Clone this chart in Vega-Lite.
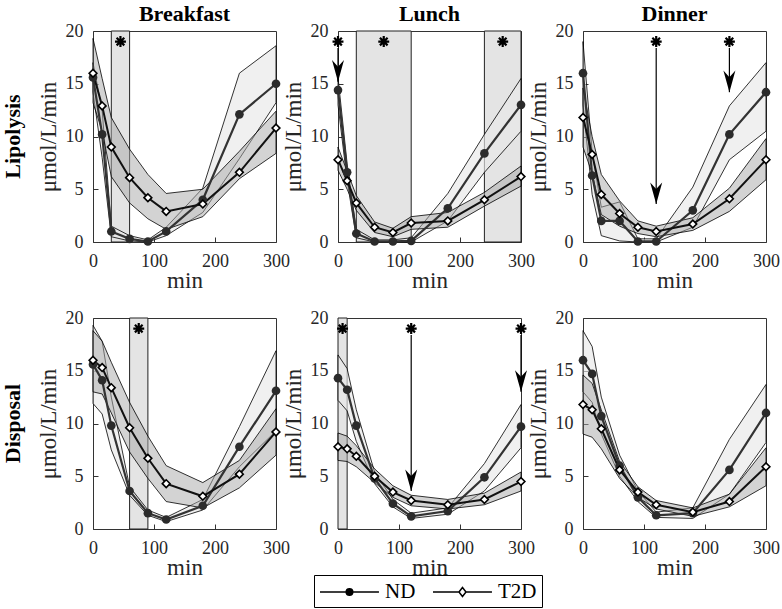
{
  "$schema": "https://vega.github.io/schema/vega-lite/v6.json",
  "background": "white",
  "padding": {"left": 2, "right": 8, "top": 3, "bottom": 0},
  "data": {"values": [
    {"m":"Breakfast","r":"Lipolysis","k":"s","g":"ND","t":0,"y":15.6,"lo":14.2,"hi":17.0},
    {"m":"Breakfast","r":"Lipolysis","k":"s","g":"ND","t":15,"y":10.2,"lo":8.0,"hi":12.5},
    {"m":"Breakfast","r":"Lipolysis","k":"s","g":"ND","t":30,"y":1.0,"lo":0.5,"hi":1.5},
    {"m":"Breakfast","r":"Lipolysis","k":"s","g":"ND","t":60,"y":0.3,"lo":0.1,"hi":0.6},
    {"m":"Breakfast","r":"Lipolysis","k":"s","g":"ND","t":90,"y":0.05,"lo":0,"hi":0.2},
    {"m":"Breakfast","r":"Lipolysis","k":"s","g":"ND","t":120,"y":1.0,"lo":0.6,"hi":1.4},
    {"m":"Breakfast","r":"Lipolysis","k":"s","g":"ND","t":180,"y":4.0,"lo":2.8,"hi":5.1},
    {"m":"Breakfast","r":"Lipolysis","k":"s","g":"ND","t":240,"y":12.1,"lo":7.9,"hi":16.0},
    {"m":"Breakfast","r":"Lipolysis","k":"s","g":"ND","t":300,"y":15.0,"lo":13.2,"hi":18.6},
    {"m":"Breakfast","r":"Lipolysis","k":"s","g":"T2D","t":0,"y":16.0,"lo":13.2,"hi":19.3},
    {"m":"Breakfast","r":"Lipolysis","k":"s","g":"T2D","t":15,"y":12.9,"lo":10.5,"hi":15.5},
    {"m":"Breakfast","r":"Lipolysis","k":"s","g":"T2D","t":30,"y":9.0,"lo":6.2,"hi":11.8},
    {"m":"Breakfast","r":"Lipolysis","k":"s","g":"T2D","t":60,"y":6.1,"lo":3.7,"hi":8.8},
    {"m":"Breakfast","r":"Lipolysis","k":"s","g":"T2D","t":90,"y":4.2,"lo":2.2,"hi":6.4},
    {"m":"Breakfast","r":"Lipolysis","k":"s","g":"T2D","t":120,"y":2.9,"lo":1.2,"hi":4.6},
    {"m":"Breakfast","r":"Lipolysis","k":"s","g":"T2D","t":180,"y":3.6,"lo":2.4,"hi":5.0},
    {"m":"Breakfast","r":"Lipolysis","k":"s","g":"T2D","t":240,"y":6.6,"lo":6.0,"hi":8.6},
    {"m":"Breakfast","r":"Lipolysis","k":"s","g":"T2D","t":300,"y":10.8,"lo":8.4,"hi":12.4},

    {"m":"Lunch","r":"Lipolysis","k":"s","g":"ND","t":0,"y":14.4,"lo":13.0,"hi":15.6},
    {"m":"Lunch","r":"Lipolysis","k":"s","g":"ND","t":15,"y":6.6,"lo":5.8,"hi":7.4},
    {"m":"Lunch","r":"Lipolysis","k":"s","g":"ND","t":30,"y":0.8,"lo":0.4,"hi":1.2},
    {"m":"Lunch","r":"Lipolysis","k":"s","g":"ND","t":60,"y":0.05,"lo":0,"hi":0.2},
    {"m":"Lunch","r":"Lipolysis","k":"s","g":"ND","t":90,"y":0.05,"lo":0,"hi":0.2},
    {"m":"Lunch","r":"Lipolysis","k":"s","g":"ND","t":120,"y":0.1,"lo":0,"hi":0.4},
    {"m":"Lunch","r":"Lipolysis","k":"s","g":"ND","t":180,"y":3.2,"lo":2.0,"hi":4.6},
    {"m":"Lunch","r":"Lipolysis","k":"s","g":"ND","t":240,"y":8.4,"lo":6.6,"hi":10.2},
    {"m":"Lunch","r":"Lipolysis","k":"s","g":"ND","t":300,"y":13.0,"lo":10.5,"hi":15.5},
    {"m":"Lunch","r":"Lipolysis","k":"s","g":"T2D","t":0,"y":7.8,"lo":6.8,"hi":9.0},
    {"m":"Lunch","r":"Lipolysis","k":"s","g":"T2D","t":15,"y":5.8,"lo":5.0,"hi":6.7},
    {"m":"Lunch","r":"Lipolysis","k":"s","g":"T2D","t":30,"y":3.7,"lo":3.0,"hi":4.4},
    {"m":"Lunch","r":"Lipolysis","k":"s","g":"T2D","t":60,"y":1.4,"lo":0.9,"hi":1.9},
    {"m":"Lunch","r":"Lipolysis","k":"s","g":"T2D","t":90,"y":0.9,"lo":0.5,"hi":1.3},
    {"m":"Lunch","r":"Lipolysis","k":"s","g":"T2D","t":120,"y":1.8,"lo":1.2,"hi":2.4},
    {"m":"Lunch","r":"Lipolysis","k":"s","g":"T2D","t":180,"y":2.0,"lo":1.4,"hi":2.8},
    {"m":"Lunch","r":"Lipolysis","k":"s","g":"T2D","t":240,"y":4.0,"lo":3.4,"hi":4.7},
    {"m":"Lunch","r":"Lipolysis","k":"s","g":"T2D","t":300,"y":6.2,"lo":5.3,"hi":7.2},

    {"m":"Dinner","r":"Lipolysis","k":"s","g":"ND","t":0,"y":16.0,"lo":13.0,"hi":19.0},
    {"m":"Dinner","r":"Lipolysis","k":"s","g":"ND","t":15,"y":6.3,"lo":4.5,"hi":8.5},
    {"m":"Dinner","r":"Lipolysis","k":"s","g":"ND","t":30,"y":2.0,"lo":0.6,"hi":3.3},
    {"m":"Dinner","r":"Lipolysis","k":"s","g":"ND","t":60,"y":2.0,"lo":0.1,"hi":3.8},
    {"m":"Dinner","r":"Lipolysis","k":"s","g":"ND","t":90,"y":0.05,"lo":0,"hi":0.3},
    {"m":"Dinner","r":"Lipolysis","k":"s","g":"ND","t":120,"y":0.05,"lo":0,"hi":0.3},
    {"m":"Dinner","r":"Lipolysis","k":"s","g":"ND","t":180,"y":3.0,"lo":1.4,"hi":5.2},
    {"m":"Dinner","r":"Lipolysis","k":"s","g":"ND","t":240,"y":10.2,"lo":7.8,"hi":12.9},
    {"m":"Dinner","r":"Lipolysis","k":"s","g":"ND","t":300,"y":14.2,"lo":10.5,"hi":17.0},
    {"m":"Dinner","r":"Lipolysis","k":"s","g":"T2D","t":0,"y":11.8,"lo":9.0,"hi":14.6},
    {"m":"Dinner","r":"Lipolysis","k":"s","g":"T2D","t":15,"y":8.3,"lo":6.5,"hi":10.0},
    {"m":"Dinner","r":"Lipolysis","k":"s","g":"T2D","t":30,"y":4.5,"lo":2.6,"hi":6.4},
    {"m":"Dinner","r":"Lipolysis","k":"s","g":"T2D","t":60,"y":2.7,"lo":1.5,"hi":3.9},
    {"m":"Dinner","r":"Lipolysis","k":"s","g":"T2D","t":90,"y":1.4,"lo":0.8,"hi":2.0},
    {"m":"Dinner","r":"Lipolysis","k":"s","g":"T2D","t":120,"y":1.0,"lo":0.5,"hi":1.5},
    {"m":"Dinner","r":"Lipolysis","k":"s","g":"T2D","t":180,"y":1.7,"lo":1.1,"hi":2.3},
    {"m":"Dinner","r":"Lipolysis","k":"s","g":"T2D","t":240,"y":4.1,"lo":2.9,"hi":5.1},
    {"m":"Dinner","r":"Lipolysis","k":"s","g":"T2D","t":300,"y":7.8,"lo":5.9,"hi":9.8},

    {"m":"Breakfast","r":"Disposal","k":"s","g":"ND","t":0,"y":15.6,"lo":11.9,"hi":19.3},
    {"m":"Breakfast","r":"Disposal","k":"s","g":"ND","t":15,"y":14.1,"lo":10.9,"hi":17.8},
    {"m":"Breakfast","r":"Disposal","k":"s","g":"ND","t":30,"y":9.8,"lo":7.5,"hi":12.5},
    {"m":"Breakfast","r":"Disposal","k":"s","g":"ND","t":60,"y":3.6,"lo":3.2,"hi":4.0},
    {"m":"Breakfast","r":"Disposal","k":"s","g":"ND","t":90,"y":1.5,"lo":1.3,"hi":1.8},
    {"m":"Breakfast","r":"Disposal","k":"s","g":"ND","t":120,"y":0.9,"lo":0.7,"hi":1.1},
    {"m":"Breakfast","r":"Disposal","k":"s","g":"ND","t":180,"y":2.2,"lo":1.8,"hi":2.8},
    {"m":"Breakfast","r":"Disposal","k":"s","g":"ND","t":240,"y":7.8,"lo":5.9,"hi":9.7},
    {"m":"Breakfast","r":"Disposal","k":"s","g":"ND","t":300,"y":13.1,"lo":9.3,"hi":16.9},
    {"m":"Breakfast","r":"Disposal","k":"s","g":"T2D","t":0,"y":16.0,"lo":13.0,"hi":18.8},
    {"m":"Breakfast","r":"Disposal","k":"s","g":"T2D","t":15,"y":15.3,"lo":12.8,"hi":17.8},
    {"m":"Breakfast","r":"Disposal","k":"s","g":"T2D","t":30,"y":13.4,"lo":11.0,"hi":15.8},
    {"m":"Breakfast","r":"Disposal","k":"s","g":"T2D","t":60,"y":9.6,"lo":7.3,"hi":12.0},
    {"m":"Breakfast","r":"Disposal","k":"s","g":"T2D","t":90,"y":6.7,"lo":4.8,"hi":8.8},
    {"m":"Breakfast","r":"Disposal","k":"s","g":"T2D","t":120,"y":4.3,"lo":2.6,"hi":6.0},
    {"m":"Breakfast","r":"Disposal","k":"s","g":"T2D","t":180,"y":3.1,"lo":2.0,"hi":4.4},
    {"m":"Breakfast","r":"Disposal","k":"s","g":"T2D","t":240,"y":5.2,"lo":3.9,"hi":6.5},
    {"m":"Breakfast","r":"Disposal","k":"s","g":"T2D","t":300,"y":9.2,"lo":7.0,"hi":11.4},

    {"m":"Lunch","r":"Disposal","k":"s","g":"ND","t":0,"y":14.3,"lo":12.2,"hi":16.5},
    {"m":"Lunch","r":"Disposal","k":"s","g":"ND","t":15,"y":13.2,"lo":11.2,"hi":15.2},
    {"m":"Lunch","r":"Disposal","k":"s","g":"ND","t":30,"y":9.8,"lo":8.3,"hi":11.3},
    {"m":"Lunch","r":"Disposal","k":"s","g":"ND","t":60,"y":4.8,"lo":4.3,"hi":5.4},
    {"m":"Lunch","r":"Disposal","k":"s","g":"ND","t":90,"y":2.4,"lo":2.1,"hi":2.8},
    {"m":"Lunch","r":"Disposal","k":"s","g":"ND","t":120,"y":1.2,"lo":1.0,"hi":1.5},
    {"m":"Lunch","r":"Disposal","k":"s","g":"ND","t":180,"y":1.7,"lo":1.4,"hi":2.0},
    {"m":"Lunch","r":"Disposal","k":"s","g":"ND","t":240,"y":4.9,"lo":3.6,"hi":6.2},
    {"m":"Lunch","r":"Disposal","k":"s","g":"ND","t":300,"y":9.7,"lo":7.7,"hi":11.8},
    {"m":"Lunch","r":"Disposal","k":"s","g":"T2D","t":0,"y":7.8,"lo":6.5,"hi":9.1},
    {"m":"Lunch","r":"Disposal","k":"s","g":"T2D","t":15,"y":7.6,"lo":6.4,"hi":8.8},
    {"m":"Lunch","r":"Disposal","k":"s","g":"T2D","t":30,"y":6.9,"lo":5.9,"hi":7.9},
    {"m":"Lunch","r":"Disposal","k":"s","g":"T2D","t":60,"y":5.0,"lo":4.4,"hi":5.7},
    {"m":"Lunch","r":"Disposal","k":"s","g":"T2D","t":90,"y":3.5,"lo":3.0,"hi":4.1},
    {"m":"Lunch","r":"Disposal","k":"s","g":"T2D","t":120,"y":2.7,"lo":2.2,"hi":3.2},
    {"m":"Lunch","r":"Disposal","k":"s","g":"T2D","t":180,"y":2.3,"lo":1.9,"hi":2.8},
    {"m":"Lunch","r":"Disposal","k":"s","g":"T2D","t":240,"y":2.8,"lo":2.3,"hi":3.4},
    {"m":"Lunch","r":"Disposal","k":"s","g":"T2D","t":300,"y":4.5,"lo":3.6,"hi":5.4},

    {"m":"Dinner","r":"Disposal","k":"s","g":"ND","t":0,"y":16.0,"lo":13.0,"hi":18.8},
    {"m":"Dinner","r":"Disposal","k":"s","g":"ND","t":15,"y":14.7,"lo":12.0,"hi":17.3},
    {"m":"Dinner","r":"Disposal","k":"s","g":"ND","t":30,"y":10.7,"lo":9.0,"hi":12.5},
    {"m":"Dinner","r":"Disposal","k":"s","g":"ND","t":60,"y":6.0,"lo":5.0,"hi":7.0},
    {"m":"Dinner","r":"Disposal","k":"s","g":"ND","t":90,"y":3.0,"lo":2.6,"hi":3.6},
    {"m":"Dinner","r":"Disposal","k":"s","g":"ND","t":120,"y":1.3,"lo":1.1,"hi":1.6},
    {"m":"Dinner","r":"Disposal","k":"s","g":"ND","t":180,"y":1.5,"lo":1.0,"hi":2.0},
    {"m":"Dinner","r":"Disposal","k":"s","g":"ND","t":240,"y":5.6,"lo":3.3,"hi":8.5},
    {"m":"Dinner","r":"Disposal","k":"s","g":"ND","t":300,"y":11.0,"lo":8.2,"hi":13.7},
    {"m":"Dinner","r":"Disposal","k":"s","g":"T2D","t":0,"y":11.8,"lo":9.0,"hi":14.6},
    {"m":"Dinner","r":"Disposal","k":"s","g":"T2D","t":15,"y":11.3,"lo":8.7,"hi":13.8},
    {"m":"Dinner","r":"Disposal","k":"s","g":"T2D","t":30,"y":9.5,"lo":7.6,"hi":11.3},
    {"m":"Dinner","r":"Disposal","k":"s","g":"T2D","t":60,"y":5.6,"lo":4.8,"hi":6.4},
    {"m":"Dinner","r":"Disposal","k":"s","g":"T2D","t":90,"y":3.5,"lo":3.0,"hi":4.0},
    {"m":"Dinner","r":"Disposal","k":"s","g":"T2D","t":120,"y":2.3,"lo":1.9,"hi":2.7},
    {"m":"Dinner","r":"Disposal","k":"s","g":"T2D","t":180,"y":1.6,"lo":1.2,"hi":2.0},
    {"m":"Dinner","r":"Disposal","k":"s","g":"T2D","t":240,"y":2.6,"lo":2.1,"hi":3.3},
    {"m":"Dinner","r":"Disposal","k":"s","g":"T2D","t":300,"y":5.9,"lo":4.1,"hi":7.7},

    {"m":"Breakfast","r":"Lipolysis","k":"r","t":30,"t2":60},
    {"m":"Lunch","r":"Lipolysis","k":"r","t":30,"t2":120},
    {"m":"Lunch","r":"Lipolysis","k":"r","t":240,"t2":300},
    {"m":"Breakfast","r":"Disposal","k":"r","t":60,"t2":90},
    {"m":"Lunch","r":"Disposal","k":"r","t":0,"t2":15},

    {"m":"Breakfast","r":"Lipolysis","k":"st","t":45,"y":19},
    {"m":"Lunch","r":"Lipolysis","k":"st","t":0,"y":19},
    {"m":"Lunch","r":"Lipolysis","k":"st","t":75,"y":19},
    {"m":"Lunch","r":"Lipolysis","k":"st","t":270,"y":19},
    {"m":"Dinner","r":"Lipolysis","k":"st","t":120,"y":19},
    {"m":"Dinner","r":"Lipolysis","k":"st","t":240,"y":19},
    {"m":"Breakfast","r":"Disposal","k":"st","t":75,"y":19},
    {"m":"Lunch","r":"Disposal","k":"st","t":7.5,"y":19},
    {"m":"Lunch","r":"Disposal","k":"st","t":120,"y":19},
    {"m":"Lunch","r":"Disposal","k":"st","t":300,"y":19},

    {"m":"Lunch","r":"Lipolysis","k":"a","t":0,"y":18.4,"y2":15.2},
    {"m":"Dinner","r":"Lipolysis","k":"a","t":120,"y":18.4,"y2":3.6},
    {"m":"Dinner","r":"Lipolysis","k":"a","t":240,"y":18.4,"y2":14.2},
    {"m":"Lunch","r":"Disposal","k":"a","t":120,"y":18.4,"y2":3.6},
    {"m":"Lunch","r":"Disposal","k":"a","t":300,"y":18.4,"y2":13.0}
  ]},
  "facet": {
    "column": {"field": "m", "type": "nominal", "sort": ["Breakfast", "Lunch", "Dinner"], "title": null,
      "header": {"labelFont": "Liberation Serif", "labelFontSize": 22, "labelFontWeight": "bold", "labelColor": "black", "labelPadding": 5}},
    "row": {"field": "r", "type": "nominal", "sort": ["Lipolysis", "Disposal"], "title": null,
      "header": {"labelFont": "Liberation Serif", "labelFontSize": 22, "labelFontWeight": "bold", "labelColor": "black", "labelAngle": -90, "labelPadding": 58}}
  },
  "spacing": {"row": 76, "column": 62},
  "bounds": "flush",
  "resolve": {"axis": {"x": "independent", "y": "independent"}},
  "spec": {
    "width": 183,
    "height": 211,
    "layer": [
      {
        "transform": [{"filter": "datum.k === 'r'"}],
        "mark": {"type": "rect", "fill": "#e4e4e4", "stroke": "#222", "strokeWidth": 1},
        "encoding": {
          "x": {"field": "t", "type": "quantitative", "scale": {"domain": [0, 300], "nice": false}, "title": "min",
            "axis": {"values": [0, 100, 200, 300], "labelFont": "Liberation Serif", "labelFontSize": 18, "labelColor": "#262626",
              "titleFont": "Liberation Serif", "titleFontSize": 23, "titleFontWeight": "normal", "titleColor": "#262626",
              "labelPadding": 15, "titlePadding": -1, "tickSize": -5, "tickColor": "#333", "domain": false, "grid": false, "labelFlush": false}},
          "x2": {"field": "t2"},
          "y": {"datum": 0, "type": "quantitative", "scale": {"domain": [0, 20], "nice": false}, "title": "μmol/L/min",
            "axis": {"values": [0, 5, 10, 15, 20], "labelFont": "Liberation Serif", "labelFontSize": 18, "labelColor": "#262626",
              "titleFont": "Liberation Serif", "titleFontSize": 23, "titleFontWeight": "normal", "titleColor": "#262626",
              "labelPadding": 15, "titlePadding": 5, "tickSize": -5, "tickColor": "#333", "domain": false, "grid": false}},
          "y2": {"datum": 20}
        }
      },
      {
        "transform": [{"filter": "datum.k === 's' && datum.g === 'ND'"}],
        "mark": {"type": "area", "fill": "#e8e8e8", "fillOpacity": 0.65, "stroke": "black", "strokeWidth": 0.8},
        "encoding": {
          "x": {"field": "t", "type": "quantitative", "title": "min"},
          "y": {"field": "lo", "type": "quantitative", "title": "μmol/L/min"},
          "y2": {"field": "hi"}
        }
      },
      {
        "transform": [{"filter": "datum.k === 's' && datum.g === 'T2D'"}],
        "mark": {"type": "area", "fill": "#a8a8a8", "fillOpacity": 0.5, "stroke": "black", "strokeWidth": 0.8},
        "encoding": {
          "x": {"field": "t", "type": "quantitative", "title": "min"},
          "y": {"field": "lo", "type": "quantitative", "title": "μmol/L/min"},
          "y2": {"field": "hi"}
        }
      },
      {
        "transform": [{"filter": "datum.k === 's' && datum.g === 'ND'"}],
        "mark": {"type": "line", "stroke": "#333", "strokeWidth": 2.2},
        "encoding": {
          "x": {"field": "t", "type": "quantitative", "title": "min"},
          "y": {"field": "y", "type": "quantitative", "title": "μmol/L/min"}
        }
      },
      {
        "transform": [{"filter": "datum.k === 's' && datum.g === 'T2D'"}],
        "mark": {"type": "line", "stroke": "#111", "strokeWidth": 2},
        "encoding": {
          "x": {"field": "t", "type": "quantitative", "title": "min"},
          "y": {"field": "y", "type": "quantitative", "title": "μmol/L/min"}
        }
      },
      {
        "transform": [{"filter": "datum.k === 's' && datum.g === 'ND'"}],
        "mark": {"type": "point", "shape": "circle", "filled": true, "fill": "#2b2b2b", "size": 75, "opacity": 1},
        "encoding": {
          "x": {"field": "t", "type": "quantitative", "title": "min"},
          "y": {"field": "y", "type": "quantitative", "title": "μmol/L/min"}
        }
      },
      {
        "transform": [{"filter": "datum.k === 's' && datum.g === 'T2D'"}],
        "mark": {"type": "point", "shape": "diamond", "filled": true, "fill": "white", "stroke": "black", "strokeWidth": 1.6, "size": 60, "opacity": 1},
        "encoding": {
          "x": {"field": "t", "type": "quantitative", "title": "min"},
          "y": {"field": "y", "type": "quantitative", "title": "μmol/L/min"}
        }
      },
      {
        "transform": [{"filter": "datum.k === 'a'"}],
        "mark": {"type": "rule", "stroke": "black", "strokeWidth": 1.2},
        "encoding": {
          "x": {"field": "t", "type": "quantitative", "title": "min"},
          "y": {"field": "y", "type": "quantitative", "title": "μmol/L/min"},
          "y2": {"field": "y2"}
        }
      },
      {
        "transform": [{"filter": "datum.k === 'a'"}],
        "mark": {"type": "point", "shape": "M0,0L-1,-3.6L0,-2.5L1,-3.6Z", "filled": true, "fill": "black", "size": 144, "opacity": 1},
        "encoding": {
          "x": {"field": "t", "type": "quantitative", "title": "min"},
          "y": {"field": "y2", "type": "quantitative", "title": "μmol/L/min"}
        }
      },
      {
        "transform": [{"filter": "datum.k === 'st'"}],
        "mark": {"type": "point", "shape": "M-1,0H1M0,-1V1M-0.7,-0.7L0.7,0.7M-0.7,0.7L0.7,-0.7", "filled": false, "stroke": "black", "strokeWidth": 2.2, "size": 120, "opacity": 1},
        "encoding": {
          "x": {"field": "t", "type": "quantitative", "title": "min"},
          "y": {"field": "y", "type": "quantitative", "title": "μmol/L/min"}
        }
      },
      {
        "transform": [{"filter": "datum.k === 'none'"}],
        "mark": {"type": "point", "filled": false, "stroke": "black", "strokeWidth": 1.5, "size": 484, "opacity": 1},
        "encoding": {
          "x": {"field": "t", "type": "quantitative", "title": "min"},
          "y": {"field": "y", "type": "quantitative", "title": "μmol/L/min"},
          "shape": {"field": "g", "type": "nominal", "title": null,
            "scale": {"domain": ["ND", "T2D"], "range": ["M-1,0H4.36M1.74,0A0.06,0.06 0 1,1 1.62,0A0.06,0.06 0 1,1 1.74,0ZM1.82,0A0.14,0.14 0 1,1 1.54,0A0.14,0.14 0 1,1 1.82,0ZM1.9,0A0.22,0.22 0 1,1 1.46,0A0.22,0.22 0 1,1 1.9,0ZM1.98,0A0.3,0.3 0 1,1 1.38,0A0.3,0.3 0 1,1 1.98,0Z", "M-1,0H1.36M2,0H4.36M1.36,0L1.68,-0.41L2,0L1.68,0.41Z"]},
            "legend": {"symbolFillColor": "white", "symbolStrokeColor": "black", "symbolOpacity": 1, "symbolStrokeWidth": 1.5, "symbolSize": 484, "labelFont": "Liberation Serif"}}
        }
      }
    ]
  },
  "config": {
    "font": "Liberation Serif",
    "view": {"stroke": "#333", "strokeWidth": 1},
    "style": {"guide-label": {"font": "Liberation Serif"}, "guide-title": {"font": "Liberation Serif"}},
    "axis": {"grid": false, "domain": false},
    "legend": {"orient": "none", "legendX": 221, "legendY": 544, "direction": "horizontal", "strokeColor": "black", "strokeWidth": 1, "fillColor": "white",
      "padding": 5, "labelFontSize": 21, "labelColor": "black",
      "columnPadding": 14, "labelOffset": 42}
  }
}
